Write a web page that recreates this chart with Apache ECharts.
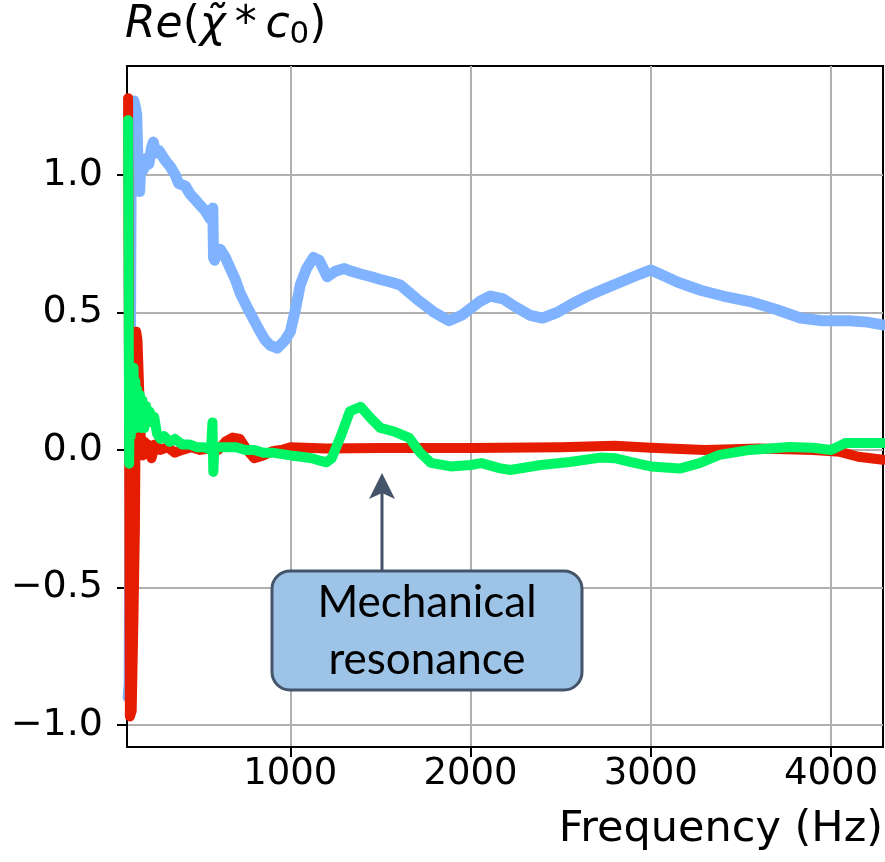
<!DOCTYPE html>
<html>
<head>
<meta charset="utf-8">
<script src="https://cdn.jsdelivr.net/npm/echarts@6/dist/echarts.min.js"></script>
<style>
html,body{margin:0;padding:0;background:#fff;}
#chart{width:885px;height:862px;}
</style>
</head>
<body>
<div id="chart"></div>
<script>
// ---- data (frequency in Hz, value = Re(chi*c0)) ----
const blueFreq = [100,106,112,118,125,132,140,148,156,164,172,185,200,215,230,240,252,270,290,310,335,362,380,418,445,473,500,528,556,566,570,574,580,595,611,640,667,695,722,760,800,833,860,889,928,972,1000,1028,1055,1090,1128,1160,1205,1250,1300,1340,1390,1450,1500,1560,1610,1700,1800,1880,1950,2050,2110,2180,2250,2330,2400,2480,2560,2650,2720,2830,2940,3000,3050,3150,3280,3400,3550,3700,3830,3950,4100,4200,4288];
const blueVal  = [-0.90,-0.85,0.20,1.15,1.00,1.27,1.25,1.22,1.02,0.94,1.05,1.02,1.06,1.04,1.10,1.12,1.08,1.09,1.07,1.05,1.03,1.00,0.97,0.96,0.93,0.91,0.89,0.87,0.84,0.86,0.88,0.70,0.69,0.73,0.73,0.70,0.66,0.62,0.57,0.52,0.47,0.43,0.40,0.38,0.37,0.40,0.43,0.51,0.60,0.66,0.70,0.69,0.63,0.65,0.66,0.65,0.64,0.63,0.62,0.61,0.60,0.55,0.50,0.47,0.49,0.54,0.56,0.55,0.52,0.49,0.48,0.50,0.53,0.56,0.58,0.61,0.64,0.655,0.64,0.61,0.58,0.56,0.54,0.51,0.48,0.47,0.47,0.465,0.455];

const redFreq = [100,105,110,120,130,138,145,152,160,170,180,190,200,210,230,250,280,320,360,400,450,500,550,600,640,680,720,760,800,850,900,950,1000,1200,1500,2000,2500,2800,3000,3300,3600,3900,4050,4150,4288];
const redVal  = [1.28,0.30,-0.97,-0.95,-0.60,-0.28,0.43,0.40,0.25,0.05,-0.02,0.03,-0.01,0.02,-0.03,0.02,0.00,0.01,-0.01,0.00,0.01,0.00,0.005,0.00,0.03,0.045,0.04,0.00,-0.03,-0.02,-0.005,0.00,0.01,0.005,0.007,0.007,0.01,0.015,0.008,0.00,0.005,0.00,-0.007,-0.025,-0.036];

const greenFreq = [100,103,106,110,115,120,125,130,135,140,145,150,158,165,172,180,190,200,210,220,232,245,260,280,300,330,360,400,440,480,520,560,568,573,578,600,650,700,750,800,850,900,1000,1060,1120,1170,1200,1230,1280,1330,1390,1440,1500,1580,1660,1720,1780,1890,2000,2060,2160,2220,2390,2550,2720,2800,2890,3000,3160,3270,3380,3550,3770,3900,4000,4080,4220,4288];
const greenVal  = [1.20,0.60,-0.05,0.30,0.05,0.28,0.10,0.30,0.12,0.25,0.08,0.22,0.10,0.20,0.08,0.18,0.08,0.16,0.12,0.14,0.10,0.12,0.06,0.04,0.05,0.03,0.04,0.02,0.02,0.01,0.01,0.00,0.10,-0.08,0.00,0.01,0.01,0.01,0.00,0.00,-0.01,-0.01,-0.02,-0.025,-0.03,-0.04,-0.045,-0.03,0.05,0.14,0.157,0.12,0.08,0.066,0.044,-0.01,-0.047,-0.06,-0.055,-0.048,-0.066,-0.073,-0.055,-0.044,-0.028,-0.03,-0.044,-0.06,-0.068,-0.048,-0.018,0.00,0.011,0.008,0.00,0.025,0.025,0.025];

const xTicks = [1000,2000,3000,4000];
const yTicks = [-1.0,-0.5,0.0,0.5,1.0];

function pairs(xs, ys){ return xs.map((x,i)=>[x, ys[i]]); }

const chart = echarts.init(document.getElementById('chart'), null, {renderer:'canvas'});
const tickFont = "'DejaVu Sans', sans-serif";

chart.setOption({
  animation:false,
  backgroundColor:'#ffffff',
  grid:{left:127, top:66, width:756, height:681, show:true, borderColor:'#000', borderWidth:2, backgroundColor:'transparent'},
  xAxis:{
    type:'value', min:94, max:4288,
    axisLine:{show:true, onZero:false, lineStyle:{color:'#000', width:2}},
    axisTick:{show:true, length:10, inside:false, customValues:xTicks, lineStyle:{color:'#000', width:2}},
    axisLabel:{customValues:xTicks, fontFamily:tickFont, fontSize:37, color:'#000', margin:9,
      formatter:v=>String(Math.round(v))},
    splitLine:{show:true, lineStyle:{color:'#b0b0b0', width:2}}
  },
  yAxis:{
    type:'value', min:-1.081, max:1.397,
    axisLine:{show:true, onZero:false, lineStyle:{color:'#000', width:2}},
    axisTick:{show:true, length:10, inside:false, customValues:yTicks, lineStyle:{color:'#000', width:2}},
    axisLabel:{customValues:yTicks, fontFamily:tickFont, fontSize:38, color:'#000', margin:24,
      formatter:v=>{ const s=Math.abs(v).toFixed(1); return v<-1e-9 ? '\u2212'+s : s; }},
    splitLine:{show:true, lineStyle:{color:'#b0b0b0', width:2}}
  },
  series:[
    {type:'line', data:pairs(blueFreq, blueVal), showSymbol:false, symbol:'none', z:2,
     lineStyle:{color:'#80b3ff', width:11, cap:'round', join:'round'}},
    {type:'line', data:pairs(redFreq, redVal), showSymbol:false, symbol:'none', z:3,
     lineStyle:{color:'#e61c00', width:10, cap:'round', join:'round'}},
    {type:'line', data:pairs(greenFreq, greenVal), showSymbol:false, symbol:'none', z:4,
     lineStyle:{color:'#00f566', width:10, cap:'round', join:'round'}}
  ],
  graphic:[
    {type:'text', left:125, top:4, z:10,
     style:{rich:{
        it:{fontFamily:"'DejaVu Sans'", fontStyle:'italic', fontSize:44, fill:'#000'},
        up:{fontFamily:"'DejaVu Sans'", fontSize:44, fill:'#000'},
        sub:{fontFamily:"'DejaVu Sans'", fontSize:31, fill:'#000', padding:[18,0,0,0]}
      },
      text:'{it|Re}{up|(}{it|\u03C7\u0303}{up|\u2009*\u2009}{it|c}{sub|0}{up|)}'}},
    {type:'text', right:2, top:808, z:10,
     style:{text:'Frequency (Hz)', fontFamily:"'DejaVu Sans'", fontSize:43, fill:'#000'}},
    {type:'line', z:20, shape:{x1:382, y1:492, x2:382, y2:571}, style:{stroke:'#44546a', lineWidth:3}},
    {type:'polygon', z:20, shape:{points:[[382,473],[395,499],[382,493],[369,499]]}, style:{fill:'#44546a'}},
    {type:'rect', z:21, shape:{x:272, y:571, width:310, height:119, r:18},
     style:{fill:'#9dc3e6', stroke:'#44546a', lineWidth:3}},
    {type:'text', z:22, x:427, y:631,
     style:{text:'Mechanical\nresonance', fontFamily:"Lato, 'Open Sans', sans-serif", fontSize:44, lineHeight:57,
       fill:'#000', align:'center', verticalAlign:'middle'}}
  ]
});
</script>
</body>
</html>
